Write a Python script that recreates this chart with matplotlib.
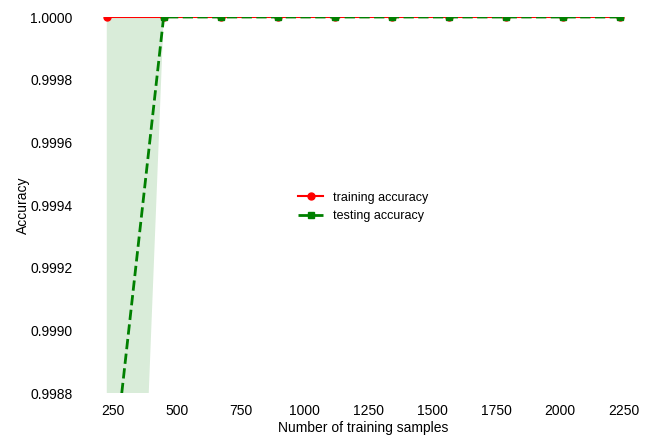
import matplotlib
matplotlib.use("Agg")
import matplotlib.pyplot as plt
import numpy as np

plt.rcParams['font.family'] = ['Liberation Sans', 'DejaVu Sans']

train_sizes = [224, 447, 671, 895, 1118, 1342, 1566, 1790, 2013, 2237]
train_mean = [1.0, 1.0, 1.0, 1.0, 1.0, 1.0, 1.0, 1.0, 1.0, 1.0]
train_std = [0.0, 0.0, 0.0, 0.0, 0.0, 0.0, 0.0, 0.0, 0.0, 0.0]
test_mean = [0.99837, 1.0, 1.0, 1.0, 1.0, 1.0, 1.0, 1.0, 1.0, 1.0]
test_std = [0.00295, 0.0, 0.0, 0.0, 0.0, 0.0, 0.0, 0.0, 0.0, 0.0]
xticks = [250, 500, 750, 1000, 1250, 1500, 1750, 2000, 2250]
yticks = [0.9988, 0.9990, 0.9992, 0.9994, 0.9996, 0.9998, 1.0000]

tr_m = np.array(train_mean); tr_s = np.array(train_std)
te_m = np.array(test_mean); te_s = np.array(test_std)

fig = plt.figure(figsize=(6.46, 4.36), dpi=100)
ax = fig.add_axes([81/646, 43/436, 565/646, 376/436])

ax.plot(train_sizes, tr_m, color='red', marker='o', markersize=5, linewidth=1.5,
        label='training accuracy', clip_on=True)
ax.fill_between(train_sizes, tr_m + tr_s, tr_m - tr_s, alpha=0.15, color='red', linewidth=0)
ax.plot(train_sizes, te_m, color='green', linestyle='--', marker='s', markersize=5,
        linewidth=2, label='testing accuracy', clip_on=True)
ax.fill_between(train_sizes, te_m + te_s, te_m - te_s, alpha=0.15, color='green', linewidth=0)

ax.set_xlim(123, 2338)
ax.set_ylim(0.9988, 1.0)
ax.set_xticks(xticks)
ax.set_yticks(yticks)
ax.set_yticklabels(['%.4f' % v for v in yticks])
ax.tick_params(length=0, labelsize=10)
ax.tick_params(axis='y', pad=6)
ax.tick_params(axis='x', pad=8)
for s in ax.spines.values():
    s.set_visible(False)
ax.set_xlabel('Number of training samples', fontsize=10, labelpad=2)
ax.set_ylabel('Accuracy', fontsize=10, labelpad=0)
ax.legend(loc='center', bbox_to_anchor=(0.5, 0.495), frameon=False, fontsize=9)

fig.savefig('out.png', dpi=100)
